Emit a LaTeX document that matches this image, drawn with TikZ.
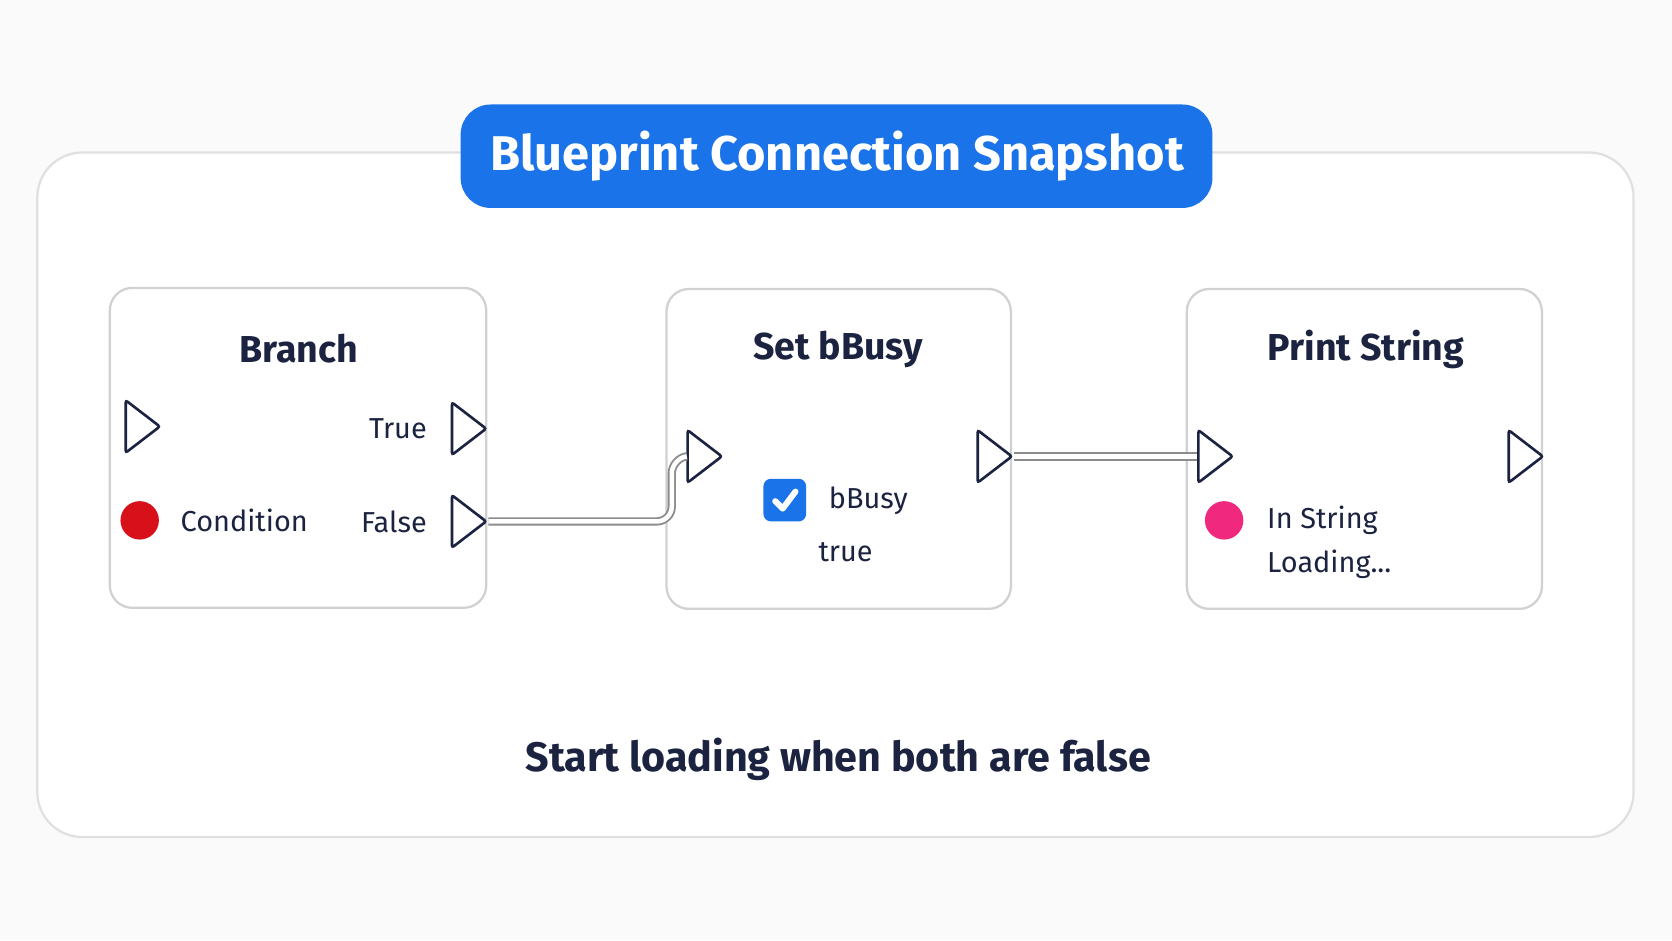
\documentclass[tikz,border=0pt]{standalone}
\usepackage{fontspec}
\setmainfont{Fira Sans}
\usetikzlibrary{positioning,shapes.geometric}
\definecolor{bpblue}{HTML}{1A73E8}
\definecolor{ink}{HTML}{1B2340}
\definecolor{pinred}{HTML}{D7101A}
\definecolor{pinpink}{HTML}{F0287E}
\tikzset{
  card/.style={draw=black!18, fill=white, rounded corners=6pt, line width=0.6pt},
  cardtitle/.style={text=ink, font=\fontsize{10}{12}\selectfont\bfseries},
  pin/.style={isosceles triangle, isosceles triangle apex angle=75, draw=ink, fill=white,
    line width=0.7pt, minimum height=3.2mm, minimum width=4.2mm, inner sep=0pt, rounded corners=0.6pt},
  dot/.style={circle, minimum size=3.6mm, inner sep=0pt},
  lbl/.style={text=ink, font=\fontsize{7.7}{9}\selectfont},
  wire/.style={draw=black!45, double=white, double distance=1.2pt, line width=0.5pt}
}
\begin{document}
\begin{tikzpicture}[x=0.01cm, y=-0.01cm]
  \useasboundingbox[fill=black!2] (0,0) rectangle (1568,882);
  % panel and title
  \draw[draw=black!12, fill=white, rounded corners=12pt, line width=0.6pt] (35,143) rectangle (1532,785);
  \fill[bpblue, rounded corners=8pt] (432,98) rectangle (1137,195);
  \node[text=white, font=\fontsize{13}{16}\selectfont\bfseries] (title) at (785,146) {Blueprint Connection Snapshot};
  % cards
  \draw[card] (103,270) rectangle (456,570);
  \draw[card] (625,271) rectangle (948,571);
  \draw[card] (1113,271) rectangle (1446,571);
  \node[cardtitle] (branch) at (280,327) {Branch};
  \node[cardtitle] (setbusy) at (786,328) {Set bBusy};
  \node[cardtitle] (print) at (1281,328) {Print String};
  % Branch pins
  \node[pin] (brin) at (130,400) {};
  \node[pin] (brtrue) at (436,402) {};
  \node[lbl, left=0.1cm of brtrue] (truelbl) {True};
  \node[dot, fill=pinred] (cond) at (131,488) {};
  \node[lbl, anchor=west] (condlbl) at (157,488) {Condition};
  \node[pin] (brfalse) at (436,489) {};
  \node[lbl, left=0.1cm of brfalse] (falselbl) {False};
  % Set bBusy pins
  \node[pin] (sbin) at (657,428) {};
  \node[pin] (sbout) at (929,428) {};
  \node[fill=bpblue, rounded corners=2pt, minimum size=4mm, inner sep=0pt] (check) at (736,469) {};
  \draw[white, line width=1.6pt, line cap=round, line join=round]
    ([shift={(-9,1)}]check.center) -- ([shift={(-2,8)}]check.center) -- ([shift={(10,-8)}]check.center);
  \node[lbl, anchor=west] (busylbl) at (765,470) {bBusy};
  \node[lbl] (truev) at (793,518) {true};
  % Print String pins
  \node[pin] (psin) at (1136,428) {};
  \node[pin] (psout) at (1427,428) {};
  \node[dot, fill=pinpink] (instr) at (1148,488) {};
  \node[lbl, anchor=west] (instrlbl) at (1176,488) {In String};
  \node[lbl, anchor=west] (loadlbl) at (1176,529) {Loading...};
  % wires
  \draw[wire, rounded corners=4pt] (brfalse.apex) -- (630,489) -- (630,430) -- (sbin.west);
  \draw[wire] (sbout.apex) -- (psin.west);
  % caption
  \node[text=ink, font=\fontsize{11}{13}\selectfont\bfseries] (caption) at (786,712) {Start loading when both are false};
\end{tikzpicture}
\end{document}
